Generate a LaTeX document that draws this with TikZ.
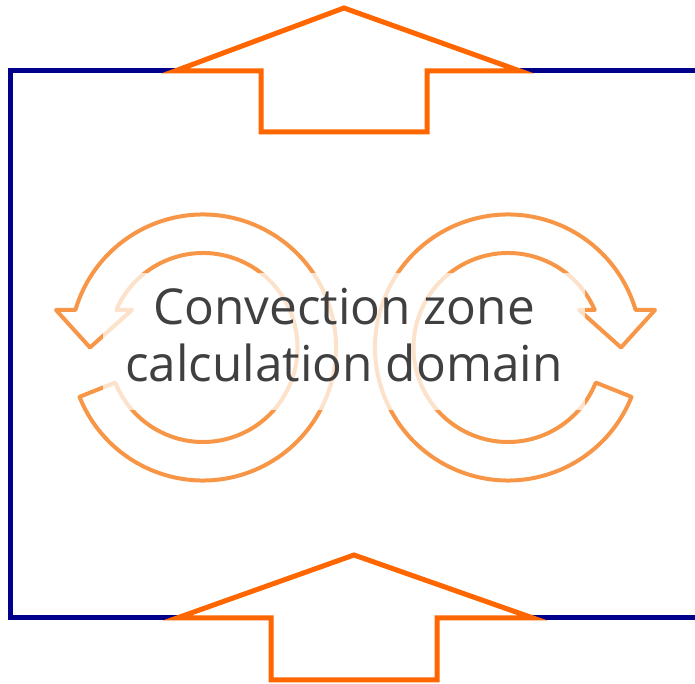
\documentclass[tikz,border=0pt]{standalone}
\usepackage{fontspec}
\setsansfont{Open Sans}

\definecolor{framenavy}{RGB}{0,0,139}
\definecolor{flowarrow}{RGB}{255,102,0}
\definecolor{cycleorange}{RGB}{247,150,70}
\definecolor{labelgray}{RGB}{64,64,64}

\begin{document}
\begin{tikzpicture}[x=1pt, y=1pt, line join=miter,
    flow/.style={draw=flowarrow, fill=white, line width=5pt},
    cyc/.style={draw=cycleorange, line width=4pt, line join=round}]
\useasboundingbox (0,0) rectangle (695,684);
% domain boundary, open on the right
\draw[framenavy, line width=5pt] (695,613) -- (10,613) -- (10,66) -- (695,66);
% outflow (top) and inflow (bottom)
\draw[flow] (175,613) -- (344,676) -- (520,613) -- (427,613) -- (427,552)
    -- (261,552) -- (261,613) -- cycle;
\draw[flow] (177,66) -- (354,129) -- (533,66) -- (437,66) -- (437,4)
    -- (271,4) -- (271,66) -- cycle;
% two convection cells, right one mirrored
\foreach \cx/\s in {203/1, 508/-1} {
  \begin{scope}[shift={(\cx,336.5)}, xscale=\s]
    \draw[cyc] (201.8:133) arc[start angle=201.8, end angle=523.6, radius=133]
      -- (-147,37.5) -- (-113,0) -- (-71,37.5) -- (156.6:94.5)
      arc[start angle=516.6, end angle=201.8, radius=94.5] -- cycle;
  \end{scope}
}
\node[fill=white, fill opacity=.72, text opacity=1, text=labelgray,
    minimum width=482pt, minimum height=137pt, inner sep=0pt, align=center,
    text depth=13pt, font=\sffamily\fontsize{49.5}{57}\selectfont]
    (domain) at (344,342.5) {Convection zone\\calculation domain};
\end{tikzpicture}
\end{document}
